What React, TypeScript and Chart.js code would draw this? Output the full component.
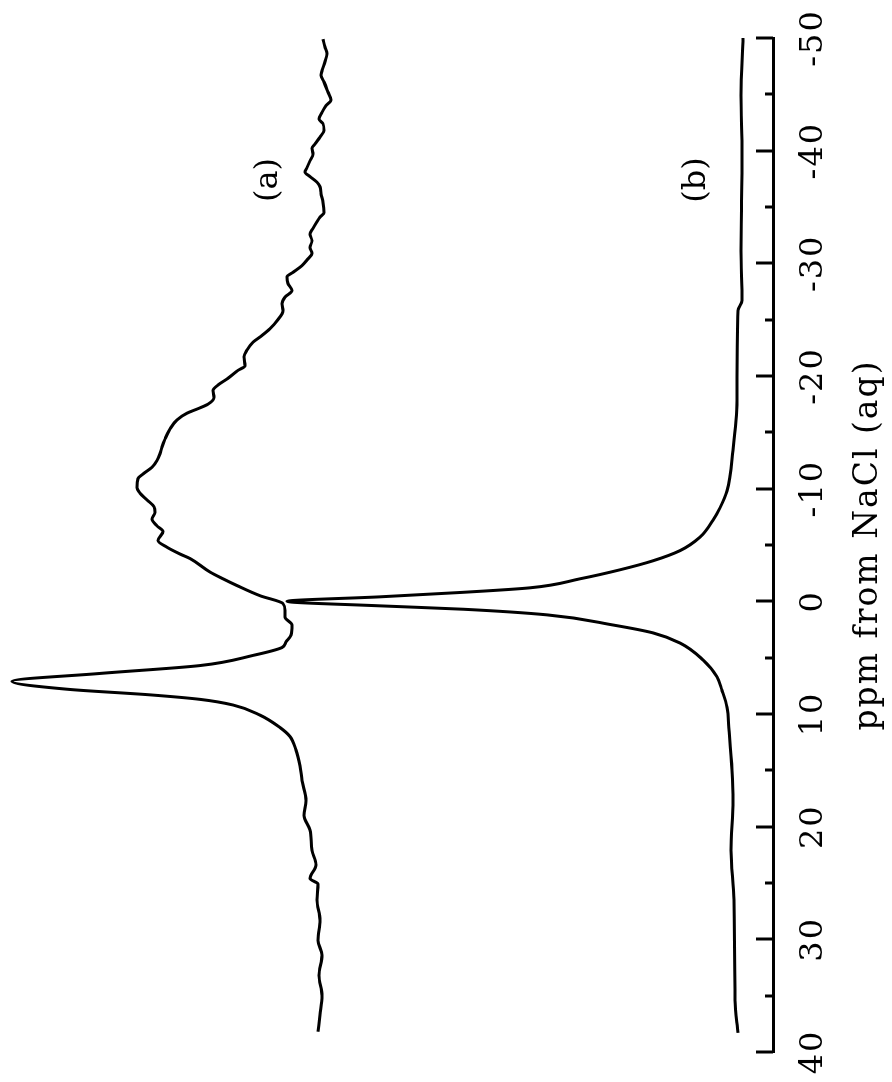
import React, { useEffect, useRef } from "react";
import { Chart, registerables } from "chart.js";

Chart.register(...registerables);

// Spectrum (a): chemical shift (ppm) and intensity (arbitrary units)
const ppmA = [
  -49.9, -49.2, -48.6, -47.9, -47.1, -46.7, -46.1, -45.2, -44.5, -44.0, -43.4, -42.8, -42.4, -41.8,
  -41.2, -40.6, -40.2, -39.7, -39.1, -38.5, -38.1, -37.7, -37.2, -36.8, -36.2, -35.4, -34.5, -34.1,
  -33.7, -33.1, -32.6, -32.0, -31.4, -30.9, -30.3, -29.8, -29.2, -28.8, -28.2, -27.6, -27.0, -26.4,
  -25.8, -24.9, -24.2, -23.6, -23.0, -22.3, -21.7, -20.9, -20.5, -19.8, -19.2, -18.7, -18.1, -17.5,
  -17.1, -16.7, -16.1, -15.3, -14.4, -13.7, -13.1, -12.5, -11.9, -11.3, -10.9, -10.1, -9.6, -9.0,
  -8.4, -7.9, -7.3, -6.7, -6.2, -5.4, -4.8, -4.2, -3.8, -2.6, -2.0, -1.4, -0.5, 0.2, 0.8, 1.4, 2.1,
  3.0, 3.6, 4.1, 4.8, 5.7, 6.4, 7.1, 7.8, 8.3, 8.7, 9.2, 10.1, 11.2, 12.0, 13.2, 14.6, 15.9, 17.7,
  19.0, 20.3, 22.1, 23.4, 24.6, 25.1, 26.5, 28.3, 30.1, 31.4, 33.2, 35.0, 36.7, 38.2,
];
const intensityA = [
  450, 448, 446, 448, 451, 452, 449, 445, 442, 447, 451, 454, 450, 449,
  453, 458, 461, 460, 463, 466, 468, 463, 456, 453, 452, 450, 449, 453,
  456, 460, 463, 461, 463, 461, 466, 471, 480, 486, 485, 481, 488, 491,
  490, 496, 503, 511, 520, 526, 529, 528, 535, 545, 555, 560, 559, 565,
  575, 586, 596, 603, 608, 611, 613, 616, 621, 630, 635, 636, 633, 626,
  619, 618, 621, 616, 610, 615, 606, 593, 583, 563, 550, 536, 513, 490, 488, 488, 481,
  482, 487, 491, 520, 573, 673, 761, 706, 623, 573, 540, 513, 493, 483, 477, 473, 471, 467,
  469, 463, 461, 457, 463, 455, 456, 453, 455, 451, 454, 451, 453, 455,
];

// Spectrum (b)
const ppmB = [
  -50.0, -44.9, -39.8, -31.1, -26.7, -25.8, -17.8, -13.4, -9.8, -8.3, -7.2, -5.7, -4.5, -3.6,
  -2.8, -2.0, -1.2, -0.8, -0.4, 0.0, 0.4, 0.7, 1.2, 2.1, 2.8, 3.7, 5.2, 6.7, 7.9, 9.4, 11.4,
  15.0, 17.7, 22.1, 26.5, 35.4, 38.3,
];
const intensityB = [
  30, 32, 31, 32, 31, 35, 36, 40, 46, 53, 60, 73, 93, 120,
  153, 193, 243, 310, 393, 486, 393, 310, 226, 160, 120, 93, 70, 56, 51, 46, 44,
  41, 40, 42, 39, 38, 35,
];

// Axis ticks
const xLabelTicks = [-50, -40, -30, -20, -10, 0, 10, 20, 30, 40];
const xMarkTicks = [-50, -45, -40, -35, -30, -25, -20, -15, -10, -5, 0, 5, 10, 15, 20, 25, 30, 35, 40];
const xTitle = "ppm from NaCl (aq)";

// Trace labels
const traceLabels = ["(a)", "(b)"];
const traceLabelPpm = [-37.4, -37.4];
const traceLabelIntensity = [504, 76];

const FONT = '"DejaVu Serif", serif';

const tickMarksPlugin = {
  id: "tickMarks",
  afterDraw(chart: any) {
    const { ctx, chartArea } = chart;
    const x = chart.scales.x;
    ctx.save();
    ctx.strokeStyle = "#000";
    ctx.lineWidth = 3;
    ctx.lineCap = "butt";
    for (const v of xMarkTicks) {
      const px = Math.round(x.getPixelForValue(v));
      const len = v % 10 === 0 ? 17 : 8;
      ctx.beginPath();
      ctx.moveTo(px, chartArea.bottom);
      ctx.lineTo(px, chartArea.bottom - len);
      ctx.stroke();
    }
    ctx.restore();
  },
};

const traceLabelPlugin = {
  id: "traceLabels",
  afterDatasetsDraw(chart: any) {
    const { ctx } = chart;
    const x = chart.scales.x;
    const y = chart.scales.y;
    ctx.save();
    ctx.font = `32px ${FONT}`;
    ctx.fillStyle = "#000";
    ctx.textAlign = "center";
    ctx.textBaseline = "middle";
    traceLabels.forEach((t, i) => {
      ctx.fillText(t, x.getPixelForValue(traceLabelPpm[i]), y.getPixelForValue(traceLabelIntensity[i]));
    });
    ctx.restore();
  },
};

const spacingPlugin = {
  id: "letterSpacing",
  beforeDraw(chart: any) {
    (chart.ctx as any).letterSpacing = "2px";
  },
  beforeDatasetsDraw(chart: any) {
    (chart.ctx as any).letterSpacing = "0px";
  },
};

export default function App() {
  const canvasRef = useRef<HTMLCanvasElement | null>(null);

  useEffect(() => {
    const canvas = canvasRef.current;
    if (!canvas) return;
    const chart = new Chart(canvas, {
      type: "line",
      data: {
        datasets: [
          {
            label: "(a)",
            data: ppmA.map((p, i) => ({ x: p, y: intensityA[i] })),
            borderColor: "#000",
            borderWidth: 3,
            pointRadius: 0,
            fill: false,
            cubicInterpolationMode: "monotone",
          },
          {
            label: "(b)",
            data: ppmB.map((p, i) => ({ x: p, y: intensityB[i] })),
            borderColor: "#000",
            borderWidth: 3,
            pointRadius: 0,
            fill: false,
            cubicInterpolationMode: "monotone",
          },
        ],
      },
      options: {
        animation: false,
        responsive: false,
        devicePixelRatio: 1,
        layout: { padding: { left: 30, right: 38, top: 0, bottom: 0 } },
        plugins: {
          legend: { display: false },
          tooltip: { enabled: false },
        },
        scales: {
          x: {
            type: "linear",
            reverse: true,
            min: -50,
            max: 40,
            afterBuildTicks: (scale: any) => {
              scale.ticks = xLabelTicks.map((v) => ({ value: v }));
            },
            afterFit: (scale: any) => {
              scale.height = 119;
            },
            border: { display: true, color: "#000", width: 3 },
            grid: { display: true, drawOnChartArea: false, drawTicks: false },
            ticks: {
              autoSkip: false,
              maxRotation: 0,
              minRotation: 0,
              padding: 21,
              color: "#000",
              font: { family: FONT, size: 32 },
              callback: (v: any) => String(v),
            },
            title: {
              display: true,
              text: xTitle,
              color: "#000",
              font: { family: FONT, size: 33 },
              padding: { top: 0, bottom: 4 },
            },
          },
          y: {
            type: "linear",
            display: false,
            min: 0,
            max: 773,
          },
        },
      } as any,
      plugins: [spacingPlugin, tickMarksPlugin, traceLabelPlugin],
    });
    return () => chart.destroy();
  }, []);

  return (
    <div
      style={{
        position: "fixed",
        left: 0,
        top: 0,
        width: 892,
        height: 1082,
        overflow: "hidden",
        background: "#fff",
      }}
    >
      <div
        style={{
          position: "absolute",
          left: 0,
          top: 0,
          width: 1082,
          height: 892,
          transformOrigin: "0 0",
          transform: "translate(0px, 1082px) rotate(-90deg)",
        }}
      >
        <canvas ref={canvasRef} width={1082} height={892} style={{ width: 1082, height: 892, display: "block" }} />
      </div>
    </div>
  );
}
